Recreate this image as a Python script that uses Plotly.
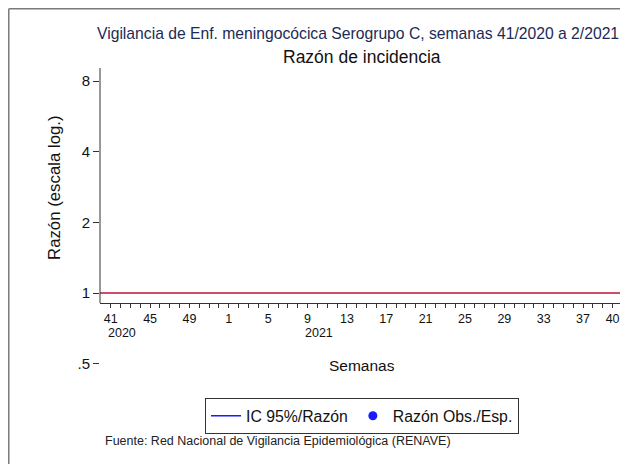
import plotly.graph_objects as go

# Semanas epidemiológicas (eje x): 41/2020 ... 41/2021
weeks = list(range(41, 53)) + list(range(1, 42))
week_labels = ["41", "45", "49", "1", "5", "9", "13", "17", "21", "25", "29", "33", "37", "40"]
year_labels = ["2020", "2021"]
year_at_week = ["41", "9"]  # etiqueta de semana bajo la que aparece cada año

# Razón observada/esperada y su IC 95% (sin casos: sin valores)
razon = [None, None, None, None, None, None, None, None, None, None, None, None, None, None, None]
ic_low = [None, None, None, None, None, None, None, None, None, None, None, None, None, None, None]
ic_high = [None, None, None, None, None, None, None, None, None, None, None, None, None, None, None]

y_ticks = [0.5, 1, 2, 4, 8]
y_ticktext = [".5", "1", "2", "4", "8"]
ref_ratio = 1

FONT = "Arial, Liberation Sans, sans-serif"
BLUE = "#1a1aff"
AXIS = "#333333"

idx = list(range(len(weeks)))
n_data = len(razon)

# every week gets a tick, only some are labelled (search forward in order)
ticktext = [""] * len(weeks)
label_pos = {}
cursor = 0
for lab in week_labels:
    pos = weeks.index(int(lab), cursor)
    ticktext[pos] = lab
    label_pos[lab] = pos
    cursor = pos + 1

fig = go.Figure()
fig.add_trace(go.Scatter(
    x=idx[:n_data], y=razon, mode="lines", name="IC 95%/Razón",
    line=dict(color=BLUE, width=1.5),
    error_y=dict(type="data", symmetric=False, array=ic_high, arrayminus=ic_low, color=BLUE),
))
fig.add_trace(go.Scatter(
    x=idx[:n_data], y=razon, mode="markers", name="Razón Obs./Esp.",
    marker=dict(color=BLUE, size=9),
))

fig.add_hline(y=ref_ratio, line_color="#d04c6b", line_width=2)

# y axis line only from the x axis up
fig.add_shape(type="line", xref="paper", yref="paper", x0=0, x1=0, y0=0.227, y1=1,
              line=dict(color=AXIS, width=1))

# window frame of the screenshot (top and left edges)
fig.add_shape(type="line", xref="paper", yref="paper", x0=-0.1741, x1=1.02, y0=1.1949, y1=1.1949,
              line=dict(color="#7a7a7a", width=1.5))
fig.add_shape(type="line", xref="paper", yref="paper", x0=-0.1741, x1=-0.1741, y0=1.1949, y1=-0.32,
              line=dict(color="#7a7a7a", width=1.5))

annotations = [
    dict(text="Vigilancia de Enf. meningocócica Serogrupo C, semanas 41/2020 a 2/2021",
         x=0.4924, y=1.1151, font=dict(size=15.7, color="#1c2b56")),
    dict(text="Razón de incidencia", x=0.5, y=1.0362, font=dict(size=17.5, color="#111111")),
    dict(text="Razón (escala log.)", x=-0.0859, y=0.6086, textangle=-90,
         font=dict(size=16.8, color="#111111")),
    dict(text="Semanas", x=0.5, y=0.023, font=dict(size=15.5, color="#111111")),
    dict(text="Fuente: Red Nacional de Vigilancia Epidemiológica (RENAVE)", x=0.0057, y=-0.227,
         xanchor="left", font=dict(size=12.5, color="#222222")),
]
for a in annotations:
    a.setdefault("xanchor", "center")
    a.update(xref="paper", yref="paper", yanchor="middle", showarrow=False)
    fig.add_annotation(**a)

for lab, wk in zip(year_labels, year_at_week):
    fig.add_annotation(text=lab, x=label_pos[wk], xref="x", y=0.227, yref="paper", yshift=-30,
                       xanchor="left", xshift=-5, yanchor="middle", showarrow=False,
                       font=dict(size=12.5, color="#111111"))

fig.update_layout(
    width=620, height=456,
    margin=dict(l=92, r=4, t=60, b=92),
    plot_bgcolor="white", paper_bgcolor="white",
    font=dict(family=FONT, size=12, color="#111111"),
    showlegend=True,
    legend=dict(orientation="h", x=0.5, xanchor="center", y=-0.0855, yanchor="top",
                bordercolor=AXIS, borderwidth=1, bgcolor="white",
                font=dict(size=15.8, color="#111111")),
)
fig.update_xaxes(
    range=[-1.09, 52.16], anchor="free", position=0.227,
    showline=True, linecolor=AXIS, linewidth=1,
    showgrid=False, zeroline=False,
    tickmode="array", tickvals=idx, ticktext=ticktext,
    ticks="outside", ticklen=4, tickcolor=AXIS, tickfont=dict(size=12.5),
)
fig.update_yaxes(
    type="log", range=[-0.336, 0.9585],
    showline=False, showgrid=False, zeroline=False,
    tickmode="array", tickvals=y_ticks, ticktext=y_ticktext,
    ticks="outside", ticklen=6, tickcolor=AXIS, tickfont=dict(size=15),
)

fig.write_html("out.html")
